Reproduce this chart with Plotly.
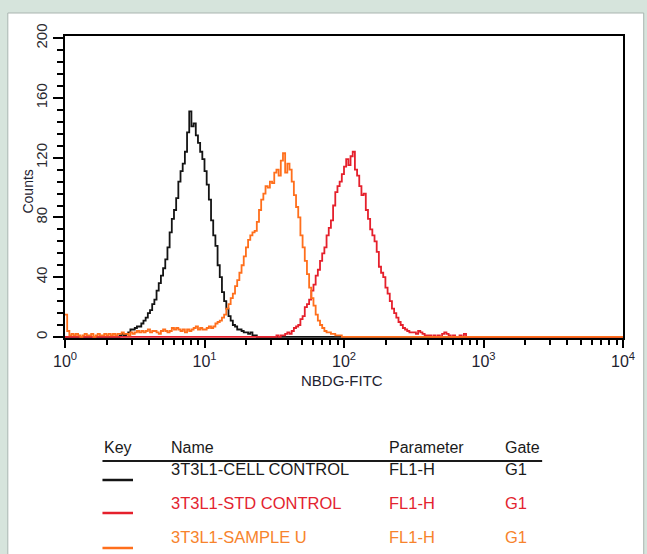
import numpy as np
import plotly.graph_objects as go

# ---------------- data (256 log channels over 4 decades) ----------------
N_CHANNELS = 256
X_DECADES = 4

BLACK_START = 25
BLACK_COUNTS = [1, 2, 1, 2, 3, 5, 5, 6, 7, 7, 9, 11, 13, 16, 18, 22, 25, 31, 36, 41,
                46, 52, 60, 70, 79, 85, 93, 104, 111, 116, 124, 137, 151, 141, 143, 135,
                130, 124, 119, 111, 102, 92, 78, 68, 61, 48, 40, 30, 24, 19, 14, 11, 8,
                7, 5, 5, 4, 3, 3, 2, 3, 1, 1]

ORANGE_START = 0
ORANGE_COUNTS = [15, 4, 1, 2, 1, 2, 1, 0, 1, 2, 1, 1, 2, 0, 1, 2, 1, 1, 2, 1,
                 2, 1, 2, 1, 2, 2, 3, 2, 2, 1, 3, 2, 3, 4, 3, 4, 3, 4, 5, 3,
                 4, 4, 3, 2, 4, 5, 4, 3, 4, 6, 5, 6, 5, 4, 5, 3, 5, 4, 5, 6,
                 7, 5, 6, 5, 5, 6, 7, 6, 7, 9, 10, 11, 13, 15, 19, 22, 26, 29, 34, 38,
                 43, 48, 54, 60, 65, 68, 70, 71, 77, 85, 92, 96, 101, 100, 104, 103, 110, 112, 108, 118,
                 123, 110, 116, 112, 104, 95, 87, 80, 68, 60, 51, 42, 33, 26, 21, 15, 11, 8, 6, 4,
                 3, 3, 2, 2, 1, 1, 1]

RED_START = 96
RED_COUNTS = [0, 1, 0, 1, 1, 2, 3, 2, 4, 6, 7, 8, 12, 14, 20, 22, 25, 31, 35, 41,
              45, 51, 56, 60, 68, 73, 78, 88, 97, 101, 104, 109, 114, 119, 115, 121, 124, 112, 108, 101,
              95, 96, 85, 79, 72, 68, 64, 57, 47, 43, 40, 33, 29, 24, 19, 16, 13, 10, 8, 6,
              5, 4, 3, 3, 3, 2, 4, 3, 2, 1, 1, 1, 0, 1, 0, 1, 0, 2, 3, 2,
              1, 0, 1, 0, 0, 1, 0, 2, 0]

X_TICK_VALUES = [1, 10, 100, 1000, 10000]
X_TICK_TEXT = ["10<sup>0</sup>", "10<sup>1</sup>", "10<sup>2</sup>", "10<sup>3</sup>", "10<sup>4</sup>"]
X_MINOR_VALUES = [m * 10 ** d for d in range(4) for m in range(2, 10)]
Y_TICK_VALUES = [0, 40, 80, 120, 160, 200]

SERIES_NAMES = ["3T3L1-CELL CONTROL", "3T3L1-STD CONTROL", "3T3L1-SAMPLE U"]
PARAMETERS = ["FL1-H", "FL1-H", "FL1-H"]
GATES = ["G1", "G1", "G1"]
HEADERS = ["Key", "Name", "Parameter", "Gate"]
X_TITLE = "NBDG-FITC"
Y_TITLE = "Counts"

BLACK = "#141414"
RED = "#e5202c"
ORANGE = "#ff6f1c"
RED_TEXT = "#e3232f"
ORANGE_TEXT = "#f7832c"
TEXT = "#1e2230"


def full_channels(start, counts):
    arr = np.zeros(N_CHANNELS)
    arr[start:start + len(counts)] = counts
    return np.append(arr, arr[-1])


edges = 10 ** (np.arange(N_CHANNELS + 1) * X_DECADES / N_CHANNELS)

fig = go.Figure()
for counts, start, color in [(BLACK_COUNTS, BLACK_START, BLACK),
                             (RED_COUNTS, RED_START, RED),
                             (ORANGE_COUNTS, ORANGE_START, ORANGE)]:
    fig.add_trace(go.Scatter(x=edges, y=full_channels(start, counts), mode="lines",
                             line=dict(color=color, width=1.8, shape="hv"),
                             showlegend=False, hoverinfo="skip"))

# ---------------- layout geometry (pixels) ----------------
W, H = 647, 554
PL, PR, PT, PB = 65, 631, 36, 338


def fx(px):
    return (px - PL) / (PR - PL)


def fy(py):
    return (PB - py) / (PB - PT)


FONT = "Liberation Sans, Arial, sans-serif"

fig.update_layout(
    width=W, height=H, autosize=False,
    margin=dict(l=PL, r=W - PR, t=PT, b=H - PB, pad=0),
    paper_bgcolor="#d6e4dc", plot_bgcolor="white",
    font=dict(family=FONT, color=TEXT),
    xaxis=dict(type="log", range=[0, 4], showgrid=False, zeroline=False,
               showline=True, mirror=True, linecolor="black", linewidth=1.6,
               ticks="outside", ticklen=8, tickwidth=1.8, tickcolor="black",
               tickmode="array", tickvals=X_TICK_VALUES, ticktext=X_TICK_TEXT,
               tickfont=dict(size=16, color=TEXT, family=FONT),
               minor=dict(ticks="outside", ticklen=5, tickwidth=1.8, tickcolor="black",
                          tickmode="array", tickvals=X_MINOR_VALUES, showgrid=False)),
    yaxis=dict(range=[-0.7, 201.5], showgrid=False, zeroline=False,
               showline=True, mirror=True, linecolor="black", linewidth=1.6,
               ticks="outside", ticklen=10, tickwidth=1.8, tickcolor="black",
               tickmode="array", tickvals=Y_TICK_VALUES, tickangle=-90,
               tickfont=dict(size=15, color="#2b2b30", family=FONT),
               minor=dict(ticks="outside", ticklen=6, tickwidth=1.8, tickcolor="black",
                          dtick=8, showgrid=False)),
)

shapes = [dict(type="rect", xref="paper", yref="paper", layer="below",
               x0=fx(7), x1=fx(W + 5), y0=fy(H + 5), y1=fy(13),
               fillcolor="white", line=dict(color="#aab5b0", width=1))]

annotations = [
    dict(text=X_TITLE, x=fx(346), y=fy(380), xref="paper", yref="paper",
         showarrow=False, xanchor="center", yanchor="middle",
         font=dict(size=15, color=TEXT, family=FONT)),
    dict(text=Y_TITLE, x=fx(27), y=fy(192), xref="paper", yref="paper",
         showarrow=False, xanchor="center", yanchor="middle", textangle=-90,
         font=dict(size=14, color=TEXT, family=FONT)),
]

# legend table
header_x = [103, 170, 392, 509]
for label, px in zip(HEADERS, header_x):
    annotations.append(dict(text=label, x=fx(px), y=fy(447), xref="paper", yref="paper",
                            showarrow=False, xanchor="left", yanchor="middle",
                            font=dict(size=16, color="#1a1a1a", family=FONT)))
shapes.append(dict(type="line", xref="paper", yref="paper", x0=fx(103), x1=fx(549),
                   y0=fy(461), y1=fy(461), line=dict(color="#1a1a1a", width=2)))

row_text_y = [469, 503, 537]
row_line_y = [480, 513, 548]
line_colors = [BLACK, RED, ORANGE]
text_colors = ["#1a1a1a", RED_TEXT, ORANGE_TEXT]
for k in range(3):
    shapes.append(dict(type="line", xref="paper", yref="paper", x0=fx(103), x1=fx(134),
                       y0=fy(row_line_y[k]), y1=fy(row_line_y[k]),
                       line=dict(color=line_colors[k], width=2.5)))
    for txt, px in zip([SERIES_NAMES[k], PARAMETERS[k], GATES[k]], header_x[1:]):
        annotations.append(dict(text=txt, x=fx(px), y=fy(row_text_y[k]), xref="paper",
                                yref="paper", showarrow=False, xanchor="left",
                                yanchor="middle",
                                font=dict(size=16.5, color=text_colors[k], family=FONT)))

fig.update_layout(shapes=shapes, annotations=annotations)
fig.write_html("out.html", config={"displayModeBar": False},
               post_script="document.body.style.margin='0';document.body.style.background='#d6e4dc';")
